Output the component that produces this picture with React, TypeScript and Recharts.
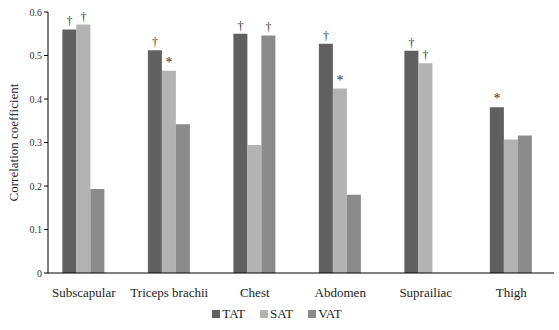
import React from "react";
import { BarChart, Bar, XAxis, YAxis, Legend, LabelList } from "recharts";

const sites = ["Subscapular", "Triceps brachii", "Chest", "Abdomen", "Suprailiac", "Thigh"];
const tat = [0.56, 0.512, 0.55, 0.527, 0.511, 0.381];
const sat = [0.571, 0.465, 0.294, 0.424, 0.482, 0.307];
const vat = [0.193, 0.342, 0.546, 0.18, null, 0.316];
const tatMarks = ["†", "†", "†", "†", "†", "*"];
const satMarks = ["†", "*", "", "*", "†", ""];
const vatMarks = ["", "", "†", "", "", ""];
const yTicks = [0, 0.1, 0.2, 0.3, 0.4, 0.5, 0.6];

const series = [
  { key: "TAT", color: "#606060", values: tat, marks: tatMarks },
  { key: "SAT", color: "#b3b3b3", values: sat, marks: satMarks },
  { key: "VAT", color: "#8b8b8b", values: vat, marks: vatMarks },
];

const data = sites.map((s, i) => ({
  site: s,
  TAT: tat[i],
  SAT: sat[i],
  VAT: vat[i],
}));

const font = "'Liberation Serif', 'Times New Roman', serif";

const markLabel = (marks: string[]) => (props: any) => {
  const { x, y, width, index } = props;
  const m = marks[index];
  if (!m) return null;
  return (
    <text
      x={x + width / 2}
      y={y - 4}
      textAnchor="middle"
      fontSize={m === "*" ? 14 : 12}
      fontFamily={font}
      fill="#333"
      style={{ fill: "#333" }}
    >
      {m}
    </text>
  );
};

const LegendBox = () => (
  <div
    style={{
      display: "flex",
      justifyContent: "center",
      gap: 15,
      fontFamily: font,
      fontSize: 13,
      color: "#222",
      paddingTop: 3,
    }}
  >
    {series.map((s) => (
      <span key={s.key} style={{ display: "flex", alignItems: "center" }}>
        <span
          style={{ width: 8, height: 8, background: s.color, display: "inline-block", marginRight: 2 }}
        />
        {s.key}
      </span>
    ))}
  </div>
);

export default function App() {
  return (
    <div style={{ position: "absolute", left: 0, top: 0, background: "#fff" }}>
      <BarChart
        width={559}
        height={330}
        data={data}
        margin={{ top: 12, right: 5, left: 0, bottom: 0 }}
        barCategoryGap="25%"
        barGap={0}
      >
        <XAxis
          dataKey="site"
          height={30}
          padding={{ left: -7, right: 0 }}
          tickLine={false}
          axisLine={{ stroke: "#000" }}
          tick={{ fontFamily: font, fontSize: 13, fill: "#222" }}
          interval={0}
          tickMargin={9}
        />
        <YAxis
          width={48}
          domain={[0, 0.6]}
          ticks={yTicks}
          tickFormatter={(v: number) => (v === 0 ? "0" : v.toFixed(1))}
          axisLine={{ stroke: "#000" }}
          tickLine={{ stroke: "#000" }}
          tickSize={4}
          tick={{ fontFamily: font, fontSize: 10, fill: "#333" }}
          label={{
            value: "Correlation coefficient",
            angle: -90,
            position: "insideLeft",
            offset: 13,
            style: { fontFamily: font, fontSize: 13, fill: "#222", textAnchor: "middle" },
          }}
        />
        <Legend verticalAlign="bottom" height={27} content={<LegendBox />} />
        {series.map((s) => (
          <Bar key={s.key} dataKey={s.key} fill={s.color} isAnimationActive={false}>
            <LabelList dataKey={s.key} content={markLabel(s.marks)} />
          </Bar>
        ))}
      </BarChart>
    </div>
  );
}
